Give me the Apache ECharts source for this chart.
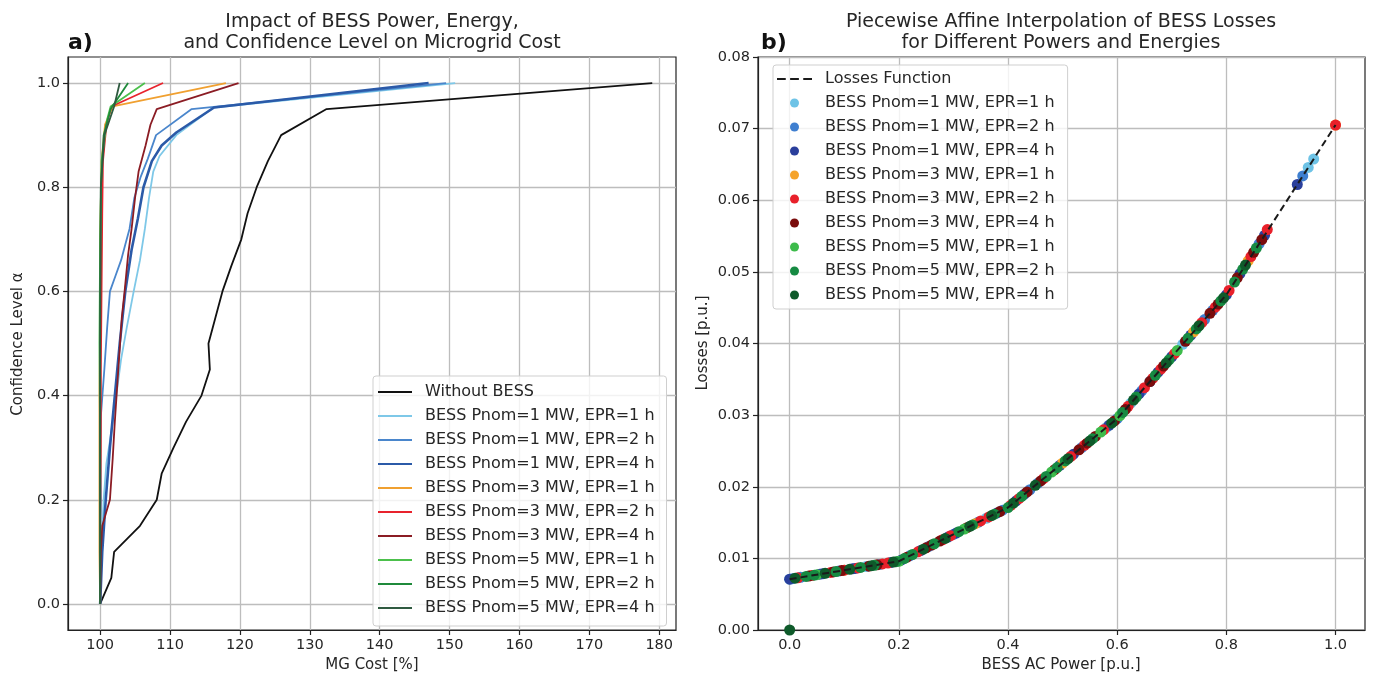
<!DOCTYPE html>
<html>
<head>
<meta charset="utf-8">
<script src="https://cdn.jsdelivr.net/npm/echarts@6/dist/echarts.min.js"></script>
<style>
  html, body { margin: 0; padding: 0; background: #ffffff; }
  #chart { width: 1386px; height: 681px; }
</style>
</head>
<body>
<div id="chart"></div>
<script>
// ---------- Panel a): confidence level vs. microgrid cost ----------
const costTicks = [100, 110, 120, 130, 140, 150, 160, 170, 180];
const alphaTicks = [0, 0.2, 0.4, 0.6, 0.8, 1.0];

// [MG cost %, confidence level]
const costNoBess = [[100,0],[101.6,0.05],[102,0.1],[105.7,0.15],[108.1,0.2],[108.8,0.25],[110.5,0.3],[112.3,0.35],[114.5,0.4],[115.7,0.45],[115.5,0.5],[116.5,0.55],[117.5,0.6],[118.8,0.65],[120.2,0.7],[121.1,0.75],[122.4,0.8],[124,0.85],[125.9,0.9],[132.4,0.95],[179,1.0]];
const cost1MW1h = [[100,0],[100.2,0.1],[100.5,0.2],[100.9,0.27],[101.6,0.33],[102.3,0.4],[103,0.47],[103.8,0.53],[104.8,0.6],[105.7,0.66],[106.4,0.72],[107,0.78],[107.6,0.83],[108.5,0.86],[110.9,0.9],[116.2,0.953],[150.8,1.0]];
const cost1MW2h = [[100,0],[100,0.1],[100.1,0.2],[100,0.3],[100.1,0.36],[100.6,0.45],[101,0.53],[101.4,0.6],[102.2,0.63],[103,0.66],[103.6,0.69],[104.2,0.72],[104.9,0.78],[105.8,0.82],[106.8,0.854],[108,0.9],[113.1,0.95],[149.5,1.0]];
const cost1MW4h = [[100,0],[100.3,0.1],[100.8,0.2],[101.4,0.3],[102.1,0.4],[102.8,0.5],[103.6,0.6],[104.5,0.68],[105.4,0.74],[106.2,0.8],[107.4,0.85],[108.8,0.88],[110.9,0.905],[116.3,0.953],[147,1.0]];
const cost3MW1h = [[100,0],[99.9,0.1],[99.9,0.25],[99.9,0.4],[100,0.55],[100,0.7],[100.2,0.85],[100.7,0.92],[101.8,0.955],[118,1.0]];
const cost3MW2h = [[100,0],[100,0.15],[100.1,0.3],[100.1,0.45],[100.2,0.6],[100.3,0.75],[100.4,0.85],[100.9,0.92],[101.6,0.955],[109,1.0]];
const cost3MW4h = [[100,0],[100.1,0.1],[100.3,0.15],[101.4,0.2],[101.8,0.28],[102.1,0.35],[102.6,0.45],[103.1,0.55],[103.5,0.6],[104,0.67],[104.5,0.72],[105,0.78],[105.5,0.83],[106.5,0.88],[107.2,0.92],[108.1,0.95],[119.8,1.0]];
const cost5MW1h = [[100,0],[100,0.3],[99.9,0.5],[100,0.7],[100.2,0.85],[101,0.93],[101.5,0.955],[106.4,1.0]];
const cost5MW2h = [[100,0],[100,0.4],[100,0.6],[100.1,0.8],[100.5,0.9],[101.5,0.95],[104,1.0]];
const cost5MW4h = [[100,0],[100,0.5],[100.1,0.8],[100.6,0.9],[102,0.955],[102.8,1.0]];

// ---------- Panel b): BESS losses vs. AC power ----------
const powerTicks = [0, 0.2, 0.4, 0.6, 0.8, 1.0];
const lossTicks = [0, 0.01, 0.02, 0.03, 0.04, 0.05, 0.06, 0.07, 0.08];

// Piecewise affine losses function (breakpoints)
const lossPower = [0, 0.2, 0.4, 0.6, 0.8, 1.0];
const lossValue = [0.0071, 0.0096, 0.0171, 0.0295, 0.0468, 0.0705];

// Operating points [AC power p.u., losses p.u.]
const pts1MW1h = [[0,0.0071],[0.14,0.00885],[0.36,0.0156],[0.58,0.02826],[0.625,0.03166],[0.72,0.03988],[0.95,0.06458],[0.96,0.06576]];
const pts1MW2h = [[0.005,0.00716],[0.02,0.00735],[0.09,0.00823],[0.165,0.00916],[0.22,0.01035],[0.255,0.01167],[0.30,0.01335],[0.345,0.01504],[0.39,0.01673],[0.44,0.01958],[0.455,0.02051],[0.535,0.02547],[0.60,0.0295],[0.645,0.03339],[0.66,0.03469],[0.76,0.04334],[0.775,0.04464],[0.86,0.05391],[0.94,0.06339]];
const pts1MW4h = [[0,0.0071],[0.055,0.00779],[0.06,0.00785],[0.115,0.00854],[0.12,0.0086],[0.185,0.00941],[0.205,0.00979],[0.24,0.0111],[0.29,0.01298],[0.305,0.01354],[0.38,0.01635],[0.415,0.01803],[0.43,0.01896],[0.495,0.02299],[0.52,0.02454],[0.585,0.02857],[0.64,0.03296],[0.675,0.03599],[0.70,0.03815],[0.735,0.04118],[0.80,0.0468],[0.825,0.04977],[0.87,0.0551],[0.93,0.0622]];
const pts3MW1h = [[0.10,0.00835],[0.34,0.01485],[0.50,0.0233],[0.74,0.04161],[0.84,0.05154],[1.0,0.0705]];
const pts3MW2h = [[0.015,0.00729],[0.04,0.0076],[0.075,0.00804],[0.10,0.00835],[0.125,0.00866],[0.17,0.00923],[0.18,0.00935],[0.235,0.01092],[0.28,0.0126],[0.295,0.01317],[0.35,0.01523],[0.365,0.01579],[0.405,0.01741],[0.42,0.01834],[0.465,0.02113],[0.515,0.02423],[0.54,0.02578],[0.575,0.02795],[0.62,0.03123],[0.65,0.03383],[0.665,0.03512],[0.68,0.03642],[0.705,0.03858],[0.755,0.04291],[0.78,0.04507],[0.805,0.0474],[0.845,0.05214],[0.875,0.0559],[1.0,0.0705]];
const pts3MW4h = [[0.035,0.00754],[0.08,0.0081],[0.095,0.00829],[0.145,0.00891],[0.16,0.0091],[0.215,0.01017],[0.25,0.01148],[0.26,0.01185],[0.275,0.01242],[0.325,0.01429],[0.385,0.01654],[0.435,0.01927],[0.46,0.02082],[0.485,0.02237],[0.53,0.02516],[0.545,0.02609],[0.56,0.02702],[0.595,0.02919],[0.615,0.0308],[0.66,0.03469],[0.685,0.03685],[0.725,0.04031],[0.77,0.04421],[0.785,0.0455],[0.82,0.04917],[0.85,0.05273],[0.865,0.0545]];
const pts5MW1h = [[0.05,0.00773],[0.20,0.0096],[0.32,0.0141],[0.48,0.02206],[0.57,0.02764],[0.605,0.02993],[0.71,0.03902]];
const pts5MW2h = [[0.03,0.00748],[0.045,0.00766],[0.085,0.00816],[0.13,0.00873],[0.155,0.00904],[0.195,0.00954],[0.21,0.00998],[0.225,0.01054],[0.265,0.01204],[0.31,0.01373],[0.335,0.01467],[0.375,0.01617],[0.40,0.0171],[0.425,0.01865],[0.47,0.02144],[0.49,0.02268],[0.505,0.02361],[0.555,0.02671],[0.61,0.03037],[0.635,0.03253],[0.67,0.03556],[0.695,0.03772],[0.73,0.04075],[0.745,0.04204],[0.79,0.04594],[0.815,0.04858],[0.83,0.05036],[0.855,0.05332]];
const pts5MW4h = [[0,0],[0.01,0.00723],[0.065,0.00791],[0.11,0.00848],[0.15,0.00898],[0.19,0.00948],[0.245,0.01129],[0.285,0.01279],[0.33,0.01448],[0.37,0.01598],[0.41,0.01772],[0.45,0.0202],[0.51,0.02392],[0.55,0.0264],[0.59,0.02888],[0.63,0.0321],[0.69,0.03729],[0.75,0.04248],[0.795,0.04637],[0.835,0.05095]];

const caseNames = [
  'BESS Pnom=1 MW, EPR=1 h', 'BESS Pnom=1 MW, EPR=2 h', 'BESS Pnom=1 MW, EPR=4 h',
  'BESS Pnom=3 MW, EPR=1 h', 'BESS Pnom=3 MW, EPR=2 h', 'BESS Pnom=3 MW, EPR=4 h',
  'BESS Pnom=5 MW, EPR=1 h', 'BESS Pnom=5 MW, EPR=2 h', 'BESS Pnom=5 MW, EPR=4 h'
];

const FONT = 'DejaVu Sans';
const TXT = '#262626';
const GRID_LINE = '#bdbdbd';

const lineColors = ['#7ec8e8', '#4a86cc', '#2b5aa8', '#f0a030', '#e8232d', '#8b1c24', '#4cc04c', '#1f8a3b', '#2f5a40'];
const dotColors = ['#6ec3e6', '#3f7fd0', '#2a3f9c', '#f5a32a', '#e8202a', '#7a0c0c', '#3dbb4b', '#168a42', '#0e5a2a'];
const costData = [cost1MW1h, cost1MW2h, cost1MW4h, cost3MW1h, cost3MW2h, cost3MW4h, cost5MW1h, cost5MW2h, cost5MW4h];
const ptsData = [pts1MW1h, pts1MW2h, pts1MW4h, pts3MW1h, pts3MW2h, pts3MW4h, pts5MW1h, pts5MW2h, pts5MW4h];

// scatter series carry a trailing space so each legend binds to its own series
const dotName = n => n + ' ';

const LINE_ICON = 'path://M0,0h34v2h-34z';
const DASH_ICON = 'path://M0,0h8v2h-8zM12,0h8v2h-8zM24,0h8v2h-8z';

const series = [];
series.push({
  name: 'Without BESS', type: 'line', xAxisIndex: 0, yAxisIndex: 0,
  data: costNoBess, symbol: 'none', color: '#111111',
  lineStyle: { width: 1.8, color: '#111111' }
});
caseNames.forEach((n, i) => {
  series.push({
    name: n, type: 'line', xAxisIndex: 0, yAxisIndex: 0,
    data: costData[i], symbol: 'none', color: lineColors[i],
    lineStyle: { width: i === 2 ? 2.6 : 1.8, color: lineColors[i] }
  });
});
caseNames.forEach((n, i) => {
  series.push({
    name: dotName(n), type: 'scatter', xAxisIndex: 1, yAxisIndex: 1,
    data: ptsData[i], symbol: 'circle', symbolSize: 11, color: dotColors[i],
    itemStyle: { color: dotColors[i], opacity: 1 }, z: 2
  });
});
series.push({
  name: 'Losses Function', type: 'line', xAxisIndex: 1, yAxisIndex: 1,
  data: lossPower.map((p, i) => [p, lossValue[i]]), symbol: 'none', color: '#1a1a1a',
  lineStyle: { width: 2, color: '#1a1a1a', type: [7, 4] }, z: 4
});

const tickLabel = { fontFamily: FONT, fontSize: 14.5, color: TXT };

function valueAxis(grid, min, max, split, ticks, fmt, extra) {
  return Object.assign({
    type: 'value', gridIndex: grid, min: min, max: max, splitNumber: split,
    axisLine: { show: true, onZero: false, lineStyle: { color: '#222', width: 1.2 } },
    axisTick: { show: true, inside: false, length: 5, lineStyle: { color: '#222', width: 1.2 }, customValues: ticks },
    axisLabel: Object.assign({ customValues: ticks, margin: 8, formatter: fmt }, tickLabel),
    splitLine: { show: true, lineStyle: { color: GRID_LINE, width: 1.3 } }
  }, extra || {});
}

const legendText = { fontFamily: FONT, fontSize: 16, color: TXT, lineHeight: 16, padding: [0, 0, 0, 8] };

const option = {
  animation: false,
  backgroundColor: '#ffffff',
  grid: [
    { left: 68, top: 57, width: 608, height: 573, show: true, borderColor: '#222', borderWidth: 1.2, backgroundColor: 'transparent' },
    { left: 758, top: 57, width: 607, height: 573, show: true, borderColor: '#222', borderWidth: 1.2, backgroundColor: 'transparent' }
  ],
  xAxis: [
    valueAxis(0, 95.4, 182.4, 9, costTicks, v => String(v)),
    valueAxis(1, -0.058, 1.054, 5, powerTicks, v => v.toFixed(1))
  ],
  yAxis: [
    valueAxis(0, -0.05, 1.05, 5, alphaTicks, v => v.toFixed(1)),
    valueAxis(1, 0, 0.08, 8, lossTicks, v => v.toFixed(2), { interval: 0.01 })
  ],
  legend: [
    {
      data: [{ name: 'Without BESS', icon: LINE_ICON }].concat(caseNames.map(n => ({ name: n, icon: LINE_ICON }))),
      left: 373, top: 376, orient: 'vertical',
      itemWidth: 34, itemHeight: 14, itemGap: 8,
      backgroundColor: 'rgba(255,255,255,0.8)', borderColor: '#cfcfcf', borderWidth: 1, borderRadius: 3,
      padding: [8, 12, 10, 5], selectedMode: false, textStyle: legendText
    },
    {
      data: [{ name: 'Losses Function', icon: DASH_ICON }].concat(caseNames.map(n => ({ name: dotName(n), icon: 'circle' }))),
      left: 773, top: 65, orient: 'vertical',
      itemWidth: 35, itemHeight: 9, itemGap: 8,
      backgroundColor: 'rgba(255,255,255,0.8)', borderColor: '#cfcfcf', borderWidth: 1, borderRadius: 3,
      padding: [6, 8, 6, 4], selectedMode: false, textStyle: legendText
    }
  ],
  graphic: [
    { type: 'text', x: 372, y: 22, style: { text: 'Impact of BESS Power, Energy,', font: '19px "DejaVu Sans"', fill: TXT, textAlign: 'center', textVerticalAlign: 'middle' } },
    { type: 'text', x: 372, y: 43, style: { text: 'and Confidence Level on Microgrid Cost', font: '19px "DejaVu Sans"', fill: TXT, textAlign: 'center', textVerticalAlign: 'middle' } },
    { type: 'text', x: 68, y: 43, style: { text: 'a)', font: 'bold 22px "DejaVu Sans"', fill: '#111', textAlign: 'left', textVerticalAlign: 'middle' } },
    { type: 'text', x: 1061, y: 22, style: { text: 'Piecewise Affine Interpolation of BESS Losses', font: '19px "DejaVu Sans"', fill: TXT, textAlign: 'center', textVerticalAlign: 'middle' } },
    { type: 'text', x: 1061, y: 43, style: { text: 'for Different Powers and Energies', font: '19px "DejaVu Sans"', fill: TXT, textAlign: 'center', textVerticalAlign: 'middle' } },
    { type: 'text', x: 761, y: 43, style: { text: 'b)', font: 'bold 22px "DejaVu Sans"', fill: '#111', textAlign: 'left', textVerticalAlign: 'middle' } },
    { type: 'text', x: 372, y: 665, style: { text: 'MG Cost [%]', font: '15px "DejaVu Sans"', fill: TXT, textAlign: 'center', textVerticalAlign: 'middle' } },
    { type: 'text', x: 1061, y: 665, style: { text: 'BESS AC Power [p.u.]', font: '15px "DejaVu Sans"', fill: TXT, textAlign: 'center', textVerticalAlign: 'middle' } },
    { type: 'text', x: 18, y: 344, rotation: Math.PI / 2, style: { text: 'Confidence Level α', font: '15px "DejaVu Sans"', fill: TXT, textAlign: 'center', textVerticalAlign: 'middle' } },
    { type: 'text', x: 703, y: 343, rotation: Math.PI / 2, style: { text: 'Losses [p.u.]', font: '15px "DejaVu Sans"', fill: TXT, textAlign: 'center', textVerticalAlign: 'middle' } }
  ],
  series: series
};

const chart = echarts.init(document.getElementById('chart'), null, { renderer: 'canvas' });
chart.setOption(option);
</script>
</body>
</html>
